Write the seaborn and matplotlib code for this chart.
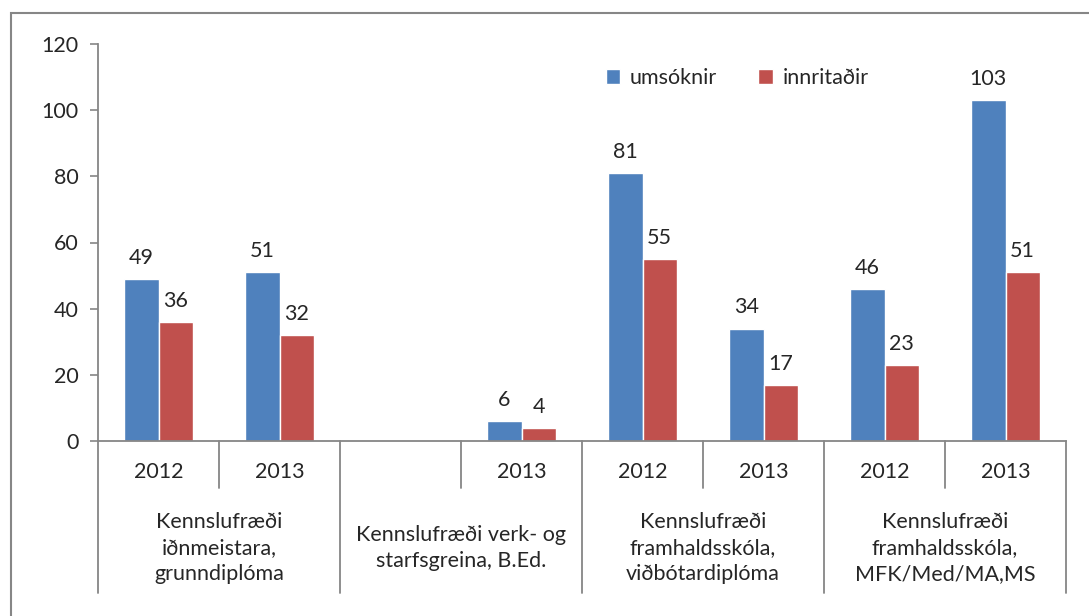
import pandas as pd
import numpy as np
import matplotlib
matplotlib.use("Agg")
import matplotlib.pyplot as plt
from matplotlib.patches import Rectangle
from matplotlib.transforms import blended_transform_factory
import seaborn as sns

# Data
slots = ["g1-2012", "g1-2013", "g2-empty", "g2-2013", "g3-2012", "g3-2013", "g4-2012", "g4-2013"]
years = ["2012", "2013", "", "2013", "2012", "2013", "2012", "2013"]
groups = ["Kennslufræði\niðnmeistara,\ngrunndiplóma",
          "Kennslufræði verk- og\nstarfsgreina, B.Ed.",
          "Kennslufræði\nframhaldsskóla,\nviðbótardiplóma",
          "Kennslufræði\nframhaldsskóla,\nMFK/Med/MA,MS"]
umsoknir = [49, 51, np.nan, 6, 81, 34, 46, 103]
innritadir = [36, 32, np.nan, 4, 55, 17, 23, 51]
series = ["umsóknir", "innritaðir"]
colors = ["#4F81BD", "#C0504D"]

df = pd.DataFrame({
    "slot": slots * 2,
    "series": [series[0]] * len(slots) + [series[1]] * len(slots),
    "value": umsoknir + innritadir,
}).dropna()

sns.set_style("white")
plt.rcParams["font.family"] = ["Lato", "DejaVu Sans"]
FS = 15.5
GRAY = "#868686"

fig = plt.figure(figsize=(10.89, 6.16), dpi=100)
ax = fig.add_axes([98 / 1089, 1 - 441 / 616, (1066 - 98) / 1089, (441 - 44) / 616])

sns.barplot(data=df, x="slot", y="value", hue="series", order=slots,
            hue_order=series, palette=colors, width=0.565, saturation=1,
            ax=ax, errorbar=None)

for cont in ax.containers:
    ax.bar_label(cont, fmt="%g", padding=8, fontsize=FS)

ax.set_ylim(0, 120)
ax.set_yticks(range(0, 121, 20))
ax.set_xlim(-0.5, len(slots) - 0.5)
ax.set_xticks([])
ax.set_xlabel("")
ax.set_ylabel("")
ax.tick_params(axis="y", length=6, width=1.2, color=GRAY, labelsize=FS, pad=8, left=True)
for s in ["top", "right"]:
    ax.spines[s].set_visible(False)
for s in ["left", "bottom"]:
    ax.spines[s].set_color(GRAY)
    ax.spines[s].set_linewidth(1.3)

# multi-level category axis
tr = blended_transform_factory(ax.transData, ax.transAxes)
for i, yr in enumerate(years):
    if yr:
        ax.text(i, -0.078, yr, transform=tr, ha="center", va="center", fontsize=FS)
for i in [0.5, 2.5, 4.5, 6.5]:
    ax.plot([i, i], [0, -0.118], transform=tr, color=GRAY, lw=1.3, clip_on=False)
for i in [-0.5, 1.5, 3.5, 5.5, 7.5]:
    ax.plot([i, i], [0, -0.383], transform=tr, color=GRAY, lw=1.3, clip_on=False)
for k, g in enumerate(groups):
    ax.text(2 * k + 0.5, -0.27, g, transform=tr, ha="center", va="center",
            fontsize=FS, linespacing=1.38)

# legend
handles, labels = ax.get_legend_handles_labels()
ax.legend(handles, labels, ncol=2, frameon=False, fontsize=FS,
          loc="center", bbox_to_anchor=(737 / 1089, 1 - 78 / 616),
          bbox_transform=fig.transFigure, handlelength=0.68, handleheight=0.68,
          handletextpad=0.45, columnspacing=1.9)

# outer chart frame
fig.patches.append(Rectangle((11 / 1089, -0.1), 1.2, 1 - 13 / 616 + 0.1,
                             transform=fig.transFigure, fill=False,
                             edgecolor=GRAY, lw=1.5))

fig.savefig("out.png", dpi=100)
